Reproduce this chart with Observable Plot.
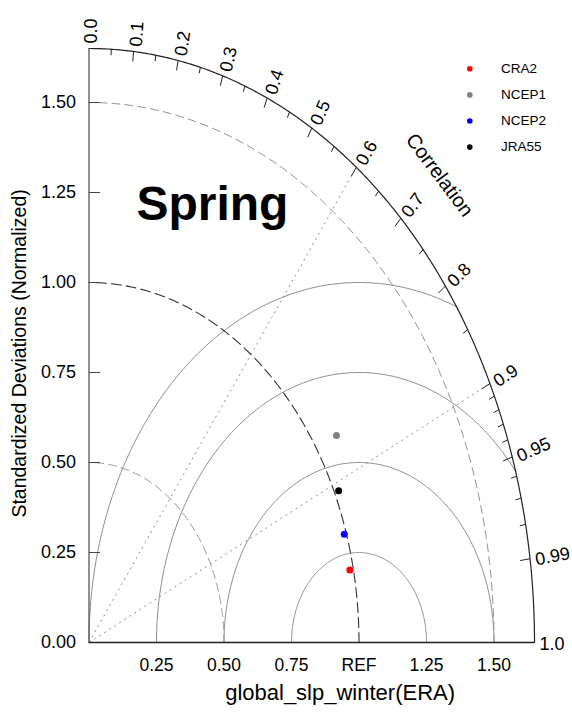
<!DOCTYPE html>
<html><head><meta charset="utf-8">
<script src="https://cdn.jsdelivr.net/npm/d3@7"></script>
<script src="https://cdn.jsdelivr.net/npm/@observablehq/plot@0.6"></script>
<style>
body{margin:0;background:#fff;}
#chart{width:572px;height:712px;}
</style></head><body><div id="chart"></div>
<script>
// ---- data ----
const models = ["CRA2", "NCEP1", "NCEP2", "JRA55"];
const stdDev = [0.987, 1.082, 0.992, 1.016];
const correlation = [0.979, 0.847, 0.953, 0.910];
const colors = ["#ff0000", "#808080", "#0000ff", "#000000"];
const yTickValues = [0, 0.25, 0.5, 0.75, 1.0, 1.25, 1.5];
const yTickLabels = ["0.00", "0.25", "0.50", "0.75", "1.00", "1.25", "1.50"];
const xTickValues = [0.25, 0.5, 0.75, 1.0, 1.25, 1.5];
const xTickLabels = ["0.25", "0.50", "0.75", "REF", "1.25", "1.50"];
const corrMajor = [0, 0.1, 0.2, 0.3, 0.4, 0.5, 0.6, 0.7, 0.8, 0.9, 0.95, 0.99, 1.0];
const corrLabels = ["0.0", "0.1", "0.2", "0.3", "0.4", "0.5", "0.6", "0.7", "0.8", "0.9", "0.95", "0.99", "1.0"];
const corrMinor = [0.05, 0.15, 0.25, 0.35, 0.45, 0.55, 0.65, 0.75, 0.85, 0.91, 0.92, 0.93, 0.94, 0.96, 0.97, 0.98];
const stdArcsLight = [0.5, 1.5];
const stdArcRef = [1.0];
const rmsArcs = [0.25, 0.5, 0.75, 1.0];
const corrLines = [0.6, 0.9];
const rMax = 1.65;
const title = "Spring";
const xTitle = "global_slp_winter(ERA)";
const yTitle = "Standardized Deviations (Normalized)";
const corrTitle = "Correlation";

// ---- layout ----
const W = 572, H = 712, mL = 88.5, mR = 38, mT = 48, mB = 70;
const kx = (W - mL - mR) / rMax, ky = (H - mT - mB) / rMax;
const FONT = "'Liberation Sans', Arial, Helvetica, sans-serif";

function arcPts(cx, cy, r, a0, a1, key) {
  const n = 300;
  return d3.range(n + 1).map(i => {
    const a = a0 + (a1 - a0) * i / n;
    return {x: cx + r * Math.cos(a), y: cy + r * Math.sin(a), key};
  });
}
const sinOf = c => Math.sqrt(Math.max(0, 1 - c * c));

const lightArcs = stdArcsLight.flatMap(r => arcPts(0, 0, r, 0, Math.PI / 2, r));
const refArc = stdArcRef.flatMap(r => arcPts(0, 0, r, 0, Math.PI / 2, r));
const outerArc = arcPts(0, 0, rMax, 0, Math.PI / 2, "outer");
const rmsPts = rmsArcs.flatMap(rho => {
  let a0 = 0;
  if (1 + rho > rMax) {
    const xi = (rMax * rMax + 1 - rho * rho) / 2;
    const yi = Math.sqrt(rMax * rMax - xi * xi);
    a0 = Math.atan2(yi, xi - 1);
  }
  return arcPts(1, 0, rho, a0, Math.PI, rho);
});

function pixDir(c) {
  const s = sinOf(c);
  const vx = kx * c, vy = ky * s, n = Math.hypot(vx, vy);
  return [vx / n, vy / n, n];
}
function tick(c, len) {
  const [, , n] = pixDir(c);
  const L = len / n;
  return {x1: rMax * c, y1: rMax * sinOf(c), x2: (rMax - L) * c, y2: (rMax - L) * sinOf(c)};
}
const majorTicks = corrMajor.filter(c => c > 0 && c < 1).map(c => tick(c, 10));
const minorTicks = corrMinor.map(c => tick(c, 6));
const corrLabelData = corrMajor.map((c, i) => {
  const [ux, uy] = pixDir(c);
  const gap = 5, side = 2;
  return {
    x: rMax * c + (gap * ux + side * uy) / kx,
    y: rMax * sinOf(c) + (gap * uy - side * ux) / ky,
    text: corrLabels[i],
    rot: -Math.atan2(uy, ux) / Math.PI * 180
  };
});
const pts = models.map((m, i) => ({
  model: m, color: colors[i],
  x: stdDev[i] * correlation[i],
  y: stdDev[i] * sinOf(correlation[i])
}));
const ctAngle = Math.PI / 4, ctR = 1.836;
const corrTitleData = [{
  x: ctR * Math.cos(ctAngle), y: ctR * Math.sin(ctAngle), text: corrTitle,
  rot: Math.atan2(ky * Math.cos(ctAngle), kx * Math.sin(ctAngle)) / Math.PI * 180
}];

const legendMarks = models.flatMap((m, i) => [
  Plot.dot([m], {frameAnchor: "top-left", dx: 380.8, dy: 20.3 + i * 26.1, r: 2.8, fill: colors[i], stroke: "none"}),
  Plot.text([m], {frameAnchor: "top-left", dx: 412, dy: 20.3 + i * 26.1, text: d => d, textAnchor: "start", lineAnchor: "middle", fontSize: 13.5})
]);

const chart = Plot.plot({
  width: W, height: H,
  marginLeft: mL, marginRight: mR, marginTop: mT, marginBottom: mB,
  x: {domain: [0, rMax], axis: null},
  y: {domain: [0, rMax], axis: null},
  style: {fontFamily: FONT, background: "white", color: "black", overflow: "visible"},
  marks: [
    // RMSD arcs
    Plot.line(rmsPts, {x: "x", y: "y", z: "key", stroke: "#8a8a8a", strokeWidth: 1}),
    // std dev arcs
    Plot.line(lightArcs, {x: "x", y: "y", z: "key", stroke: "#8f8f8f", strokeWidth: 1, strokeDasharray: "8,5"}),
    Plot.line(refArc, {x: "x", y: "y", z: "key", stroke: "#333", strokeWidth: 1.1, strokeDasharray: "10,5"}),
    // correlation dotted lines
    Plot.link(corrLines, {x1: 0, y1: 0, x2: c => rMax * c, y2: c => rMax * sinOf(c), stroke: "#8f8f8f", strokeWidth: 1, strokeDasharray: "2,4"}),
    // outer arc and axes
    Plot.line(outerArc, {x: "x", y: "y", stroke: "#222", strokeWidth: 1.2}),
    Plot.ruleX([0], {y1: 0, y2: rMax, stroke: "#555", strokeWidth: 1.3}),
    Plot.ruleY([0], {x1: 0, x2: rMax, stroke: "#222", strokeWidth: 1.3}),
    // y ticks (inward)
    Plot.link(yTickValues.filter(v => v > 0), {x1: 0, x2: 11 / kx, y1: d => d, y2: d => d, stroke: "#444", strokeWidth: 1}),
    // correlation ticks
    Plot.link(majorTicks, {x1: "x1", y1: "y1", x2: "x2", y2: "y2", stroke: "#222", strokeWidth: 1}),
    Plot.link(minorTicks, {x1: "x1", y1: "y1", x2: "x2", y2: "y2", stroke: "#222", strokeWidth: 1}),
    // tick labels
    Plot.text(yTickValues, {x: 0, y: d => d, text: (d, i) => yTickLabels[i], textAnchor: "end", dx: -13, fontSize: 18}),
    Plot.text(xTickValues, {x: d => d, y: 0, text: (d, i) => xTickLabels[i], dy: 23, fontSize: 17.5}),
    Plot.text(corrLabelData, {x: "x", y: "y", text: "text", rotate: "rot", textAnchor: "start", lineAnchor: "middle", fontSize: 18}),
    Plot.text(corrTitleData, {x: "x", y: "y", text: "text", rotate: "rot", fontSize: 20}),
    // titles
    Plot.text([xTitle], {x: 0.93, y: 0, text: d => d, dy: 50, fontSize: 22}),
    Plot.text([yTitle], {x: 0, y: 0.803, text: d => d, dx: -69, rotate: -90, fontSize: 19.5}),
    Plot.text([title], {x: 0.457, y: 1.217, text: d => d, fontSize: 48, fontWeight: "bold"}),
    // data points
    Plot.dot(pts, {x: "x", y: "y", r: 3.5, fill: "color", stroke: "none"}),
    ...legendMarks
  ]
});
document.getElementById("chart").appendChild(chart);
</script>
</body></html>
